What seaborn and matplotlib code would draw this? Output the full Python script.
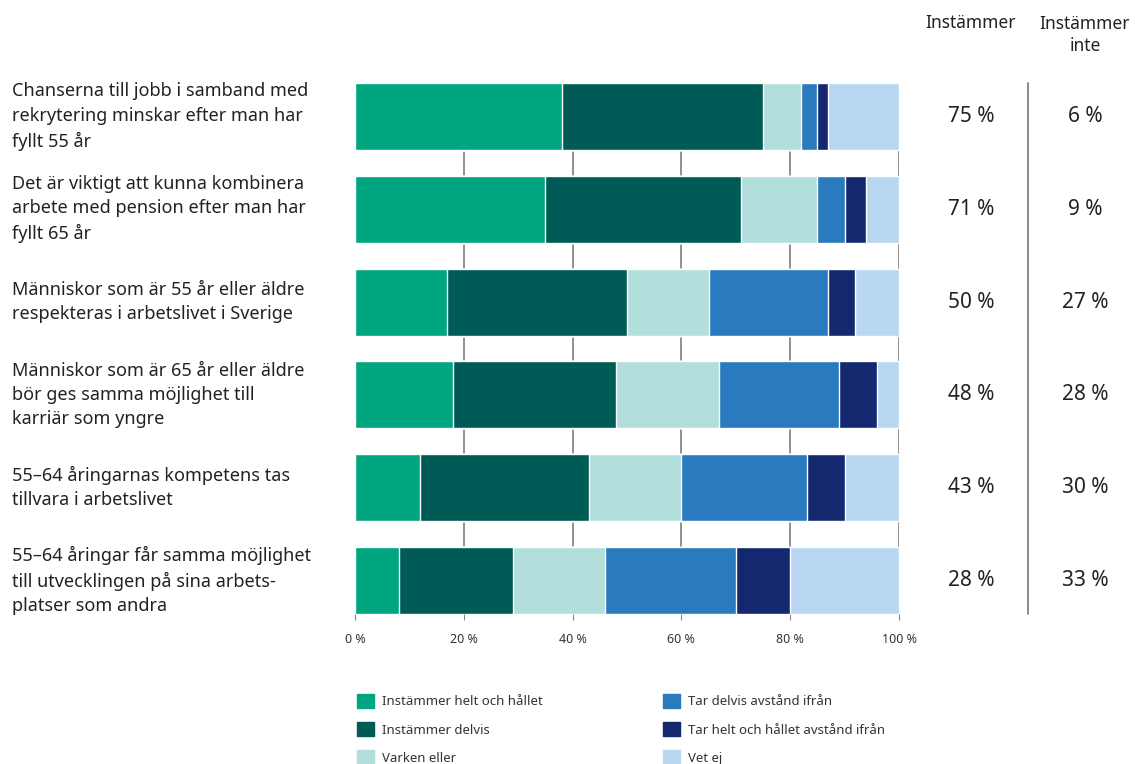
import matplotlib
matplotlib.use("Agg")
import matplotlib.pyplot as plt
import matplotlib.patches as mpatches
import numpy as np
import pandas as pd
import seaborn as sns

statements = [
    "Chanserna till jobb i samband med\nrekrytering minskar efter man har\nfyllt 55 år",
    "Det är viktigt att kunna kombinera\narbete med pension efter man har\nfyllt 65 år",
    "Människor som är 55 år eller äldre\nrespekteras i arbetslivet i Sverige",
    "Människor som är 65 år eller äldre\nbör ges samma möjlighet till\nkarriär som yngre",
    "55–64 åringarnas kompetens tas\ntillvara i arbetslivet",
    "55–64 åringar får samma möjlighet\ntill utvecklingen på sina arbets-\nplatser som andra",
]
categories = ["Instämmer helt och hållet", "Instämmer delvis", "Varken eller",
              "Tar delvis avstånd ifrån", "Tar helt och hållet avstånd ifrån", "Vet ej"]
helt = [38, 35, 17, 18, 12, 8]
delvis = [37, 36, 33, 30, 31, 21]
varken = [7, 14, 15, 19, 17, 17]
tar_delvis = [3, 5, 22, 22, 23, 24]
tar_helt = [2, 4, 5, 7, 7, 10]
vet_ej = [13, 6, 8, 4, 10, 20]
instammer = ["75 %", "71 %", "50 %", "48 %", "43 %", "28 %"]
instammer_inte = ["6 %", "9 %", "27 %", "28 %", "30 %", "33 %"]
xticks = [0, 20, 40, 60, 80, 100]
xticklabels = ["0 %", "20 %", "40 %", "60 %", "80 %", "100 %"]

colors = ["#00a67f", "#005a55", "#b2dfdb", "#2a7abf", "#13286f", "#b9d7f0"]

sns.set_theme(style="white")
plt.rcParams["font.family"] = ["Noto Sans", "DejaVu Sans"]
txt = "#222222"

df = pd.DataFrame({"statement": statements})
for name, vals in zip(categories, [helt, delvis, varken, tar_delvis, tar_helt, vet_ej]):
    df[name] = vals
cum = df[categories].cumsum(axis=1)

fig = plt.figure(figsize=(11.35, 7.64), dpi=100)
ax = fig.add_axes([355 / 1135, 1 - 614 / 764, 544 / 1135, 531 / 764])

# stacked bars: draw cumulative totals from the last category down
for name, c in reversed(list(zip(categories, colors))):
    sns.barplot(x=cum[name], y=df["statement"], color=c, orient="h",
                width=0.72, ax=ax, saturation=1, zorder=2)

ax.set_xlim(0, 100)
ax.set_ylim(5.36, -0.36)
for x in xticks[1:]:
    ax.axvline(x, color="#888888", lw=1.3, zorder=1)
for s in ax.spines.values():
    s.set_visible(False)
ax.set_xticks(xticks)
ax.set_xticklabels(xticklabels, fontsize=9, color="#333333")
ax.tick_params(axis="x", bottom=True, length=4, width=0.8, color="#888888", pad=10)
ax.set_yticks(range(len(statements)))
ax.set_yticklabels([])
ax.tick_params(axis="y", left=False)
ax.set_xlabel("")
ax.set_ylabel("")

for i, s in enumerate(statements):
    y = ax.transData.transform((0, i))[1] / fig.dpi / 7.64
    fig.text(12 / 1135, y, s, ha="left", va="center", fontsize=13,
             color=txt, linespacing=1.45)
    fig.text(971 / 1135, y, instammer[i], ha="center", va="center",
             fontsize=15, color=txt)
    fig.text(1085 / 1135, y, instammer_inte[i], ha="center", va="center",
             fontsize=15, color=txt)

fig.text(971 / 1135, 1 - 23 / 764, "Instämmer", ha="center", va="center",
         fontsize=12.5, color=txt)
fig.text(1085 / 1135, 1 - 35 / 764, "Instämmer\ninte", ha="center", va="center",
         fontsize=12.5, color=txt, linespacing=1.3)
fig.add_artist(plt.Line2D([1028 / 1135, 1028 / 1135], [1 - 83 / 764, 1 - 614 / 764],
                          color="#777777", lw=1.2))

handles = [mpatches.Patch(color=c, label=n) for n, c in zip(categories, colors)]
fig.legend(handles=handles, ncol=2, loc="upper left",
           bbox_to_anchor=(345 / 1135, 1 - 682 / 764), frameon=False,
           fontsize=9.5, handlelength=1.3, handleheight=1.3, handletextpad=0.6,
           labelspacing=1.02, columnspacing=9.1, labelcolor="#333333")

fig.savefig("out.png", dpi=100)
